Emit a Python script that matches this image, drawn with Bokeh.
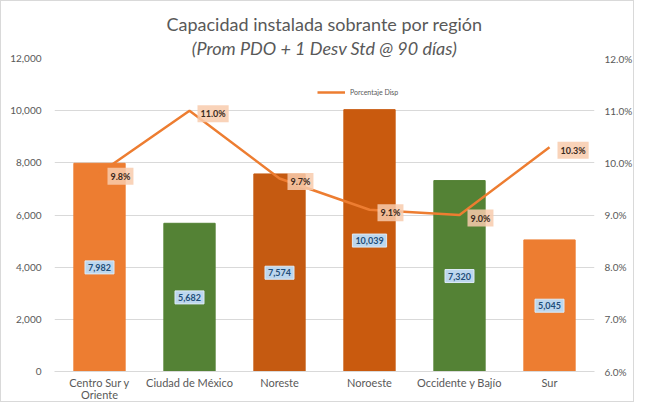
from bokeh.plotting import figure
from bokeh.models import (ColumnDataSource, Range1d, LinearAxis, NumeralTickFormatter,
                          PrintfTickFormatter, Title, Legend, LegendItem, FixedTicker)
from bokeh.core.properties import value
from bokeh.embed import file_html
from bokeh.resources import INLINE

regions = ["Centro Sur y\nOriente", "Ciudad de México", "Noreste", "Noroeste", "Occidente y Bajío", "Sur"]
capacidad = [7982, 5682, 7574, 10039, 7320, 5045]
porcentaje = [9.8, 11.0, 9.7, 9.1, 9.0, 10.3]
bar_colors = ["#ED7D31", "#548235", "#C55A11", "#C95A0E", "#548235", "#ED7D31"]

FONT = "Lato"
GREY = "#595959"

src = ColumnDataSource(dict(
    region=regions,
    cap=capacidad,
    cap_mid=[v / 2 for v in capacidad],
    cap_lbl=[f"{v:,}" for v in capacidad],
    pct=porcentaje,
    pct_lbl=[f"{v:.1f}%" for v in porcentaje],
    color=bar_colors,
))

p = figure(x_range=regions, y_range=Range1d(0, 12000), width=634, height=402,
           output_backend="svg", toolbar_location=None,
           min_border_left=53, min_border_right=38, min_border_top=0, min_border_bottom=0)
p.outline_line_color = None
p.background_fill_color = "white"
p.border_fill_color = "white"
p.styles = {"border": "1px solid #D9D9D9"}

p.extra_y_ranges = {"pct": Range1d(6, 12)}

p.vbar(x="region", top="cap", width=0.57, color="color", source=src)

line = p.line(x="region", y="pct", y_range_name="pct", source=src,
              line_color="#ED7D31", line_width=2.5)

# axes
p.yaxis.formatter = NumeralTickFormatter(format="0,0")
p.yaxis.ticker = FixedTicker(ticks=[0, 2000, 4000, 6000, 8000, 10000, 12000])
ax = p.yaxis[0]
ax.axis_line_color = None
ax.major_tick_line_color = None
ax.minor_tick_line_color = None
ax.major_label_text_color = GREY
ax.major_label_text_font = FONT
ax.major_label_text_font_size = "10px"
ax.major_label_standoff = 7

ra = LinearAxis(y_range_name="pct", formatter=PrintfTickFormatter(format="%.1f%%"),
                ticker=FixedTicker(ticks=[6, 7, 8, 9, 10, 11, 12]))
ra.axis_line_color = None
ra.major_tick_line_color = None
ra.minor_tick_line_color = None
ra.major_label_text_color = GREY
ra.major_label_text_font = FONT
ra.major_label_text_font_size = "10px"
ra.major_label_standoff = 4
p.add_layout(ra, "right")

p.xaxis.axis_line_color = "#D9D9D9"
p.xaxis.major_tick_line_color = None
p.xaxis.minor_tick_line_color = None
p.xaxis.major_tick_out = 0
p.xaxis.major_tick_in = 0
p.xaxis.major_label_text_color = GREY
p.xaxis.major_label_text_font = FONT
p.xaxis.major_label_text_font_size = "11px"
p.xaxis.major_label_text_line_height = 0.95
p.xaxis.major_label_standoff = 4

p.xgrid.grid_line_color = None
p.ygrid.grid_line_color = "#D9D9D9"

# bar labels
p.text(x="region", y="cap_mid", text="cap_lbl", source=src,
       text_align="center", text_baseline="middle",
       text_font=value(FONT), text_font_size="9px", text_font_style="bold",
       text_color="#1F4E79", background_fill_color="#BDD7EE",
       border_line_color="#DEEBF7", border_line_width=1, padding=3)

# line labels
p.text(x="region", y="pct", y_range_name="pct", text="pct_lbl", source=src,
       x_offset=8, y_offset=3,
       text_align="left", text_baseline="middle",
       text_font=value(FONT), text_font_size="9px", text_font_style="bold",
       text_color="#3A2A20", background_fill_color="#F8CBAD",
       background_fill_alpha=0.85, padding=3)

# titles (added bottom-up: last added is on top)
t2 = Title(text="(Prom PDO + 1 Desv Std @ 90 días)", align="center", offset=-8,
           text_font=FONT, text_font_size="18px", text_font_style="italic",
           text_color=GREY, standoff=0)
t1 = Title(text="Capacidad instalada sobrante por región", align="center", offset=-8,
           text_font=FONT, text_font_size="18px", text_font_style="normal",
           text_color=GREY, standoff=0)
spacer = Title(text=" ", text_font_size="7px", standoff=0)
p.add_layout(t2, "above")
p.add_layout(t1, "above")
p.add_layout(spacer, "above")

legend = Legend(items=[LegendItem(label="Porcentaje Disp", renderers=[line])],
                location=(263, 274), orientation="horizontal",
                label_text_font=FONT, label_text_font_size="7px",
                label_text_color=GREY, glyph_width=28, glyph_height=10,
                padding=2, margin=0, border_line_color=None,
                background_fill_alpha=0)
p.add_layout(legend, "center")

open("out.html", "w").write(file_html(p, INLINE))
